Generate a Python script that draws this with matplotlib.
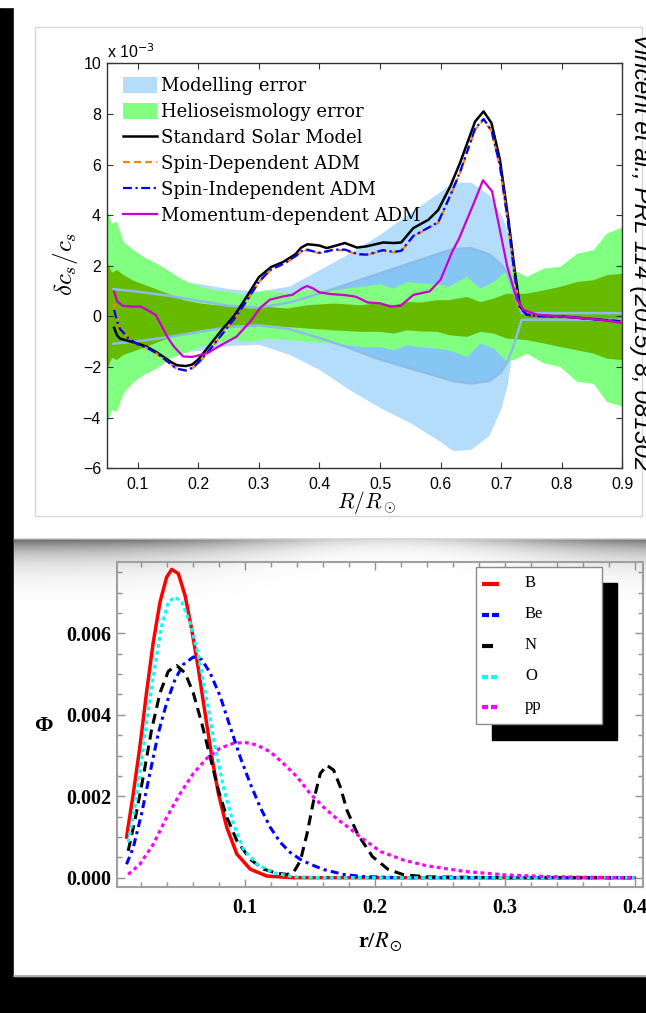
import numpy as np
import matplotlib
matplotlib.use('Agg')
import matplotlib.pyplot as plt
from matplotlib.patches import Rectangle
from matplotlib.lines import Line2D
from matplotlib.font_manager import FontProperties

# ---------------- top panel data (units of 1e-3) ----------------
x_model = [0.06, 0.10, 0.15, 0.20, 0.25, 0.30, 0.35, 0.40, 0.45, 0.50, 0.55, 0.60, 0.62,
           0.65, 0.68, 0.70, 0.71, 0.72, 0.734, 0.74, 0.80, 0.90]
model_outer_hi = [1.7, 1.6, 1.45, 1.3, 1.1, 1.0, 1.2, 1.85, 2.5, 3.25, 4.1, 4.95, 5.3,
                  5.3, 4.8, 4.0, 3.4, 2.2, 0.3, 0.15, 0.15, 0.15]
model_outer_lo = [-1.7, -1.6, -1.45, -1.35, -1.15, -1.1, -1.5, -2.1, -2.9, -3.6, -4.2, -4.95, -5.3,
                  -5.25, -4.7, -3.6, -2.7, -1.1, -0.25, -0.15, -0.15, -0.15]
model_inner_hi = [1.08, 0.98, 0.82, 0.62, 0.42, 0.35, 0.55, 0.9, 1.3, 1.7, 2.1, 2.5, 2.65,
                  2.7, 2.45, 2.05, 1.7, 1.0, 0.13, 0.13, 0.13, 0.13]
model_inner_lo = [-1.08, -0.98, -0.82, -0.62, -0.42, -0.35, -0.5, -0.85, -1.25, -1.7, -2.05, -2.4, -2.55,
                  -2.65, -2.55, -2.2, -1.8, -1.2, -0.13, -0.13, -0.13, -0.13]

x_helio = [0.05, 0.057, 0.065, 0.076, 0.093, 0.109, 0.131, 0.153, 0.175, 0.203, 0.225, 0.252,
           0.274, 0.285, 0.313, 0.346, 0.379, 0.423, 0.467, 0.50, 0.522, 0.544, 0.566, 0.594,
           0.613, 0.643, 0.665, 0.687, 0.709, 0.726, 0.742, 0.77, 0.797, 0.825, 0.852, 0.874, 0.902]
helio_outer_hi = [4.15, 3.69, 3.75, 2.96, 2.63, 2.37, 2.10, 1.78, 1.45, 1.19, 1.05, 0.99,
                  0.86, 0.92, 1.05, 0.92, 1.05, 1.05, 1.19, 1.29, 1.12, 1.38, 1.32, 1.30,
                  1.19, 1.58, 1.12, 1.38, 1.84, 1.78, 1.58, 1.91, 1.98, 2.50, 2.64, 3.29, 3.56]
helio_outer_lo = [-4.15, -3.69, -3.75, -3.03, -2.57, -2.30, -2.04, -1.65, -1.45, -1.19, -0.99, -0.92,
                  -0.95, -0.99, -0.86, -0.92, -0.99, -1.05, -1.19, -1.19, -1.32, -1.12, -1.19, -1.25,
                  -1.32, -1.58, -1.05, -1.25, -1.78, -1.65, -1.45, -1.84, -1.98, -2.57, -2.64, -3.36, -3.56]
helio_inner_hi = [2.10, 1.75, 1.85, 1.65, 1.42, 1.28, 1.08, 0.88, 0.66, 0.53, 0.47, 0.41,
                  0.36, 0.33, 0.40, 0.33, 0.46, 0.53, 0.46, 0.55, 0.46, 0.59, 0.57, 0.66,
                  0.66, 0.79, 0.59, 0.72, 0.92, 0.90, 0.92, 1.05, 1.19, 1.38, 1.45, 1.65, 1.71]
helio_inner_lo = [-2.00, -1.62, -1.70, -1.50, -1.36, -1.22, -1.02, -0.82, -0.66, -0.53, -0.47, -0.41,
                  -0.40, -0.40, -0.33, -0.40, -0.46, -0.53, -0.59, -0.59, -0.66, -0.53, -0.57, -0.59,
                  -0.72, -0.79, -0.59, -0.66, -0.86, -0.88, -0.92, -1.05, -1.19, -1.32, -1.45, -1.65, -1.71]

x_curve = [0.061, 0.066, 0.071, 0.085, 0.10, 0.115, 0.13, 0.142, 0.155, 0.165,
           0.18, 0.19, 0.20, 0.22, 0.24, 0.26, 0.28, 0.30, 0.32, 0.34,
           0.36, 0.37, 0.38, 0.39, 0.40, 0.412, 0.423, 0.442, 0.462, 0.478,
           0.505, 0.522, 0.535, 0.555, 0.58, 0.596, 0.616, 0.632, 0.657, 0.671,
           0.684, 0.698, 0.712, 0.723, 0.731, 0.742, 0.76, 0.80, 0.85, 0.90]
ssm = [-0.45, -0.75, -0.88, -0.97, -1.07, -1.2, -1.4, -1.59, -1.8, -1.93,
       -1.96, -1.9, -1.7, -1.1, -0.5, 0.05, 0.78, 1.55, 1.95, 2.15,
       2.45, 2.72, 2.85, 2.83, 2.8, 2.7, 2.77, 2.9, 2.72, 2.77,
       2.92, 2.9, 2.92, 3.49, 3.82, 4.2, 5.14, 6.06, 7.7, 8.1,
       7.64, 6.19, 3.82, 1.71, 0.4, 0.07, 0.02, 0.0, -0.1, -0.2]
spin_dep = [0.52, -0.1, -0.45, -0.85, -1.1, -1.25, -1.45, -1.65, -1.9, -2.08,
            -2.15, -2.05, -1.85, -1.3, -0.7, -0.1, 0.6, 1.35, 1.85, 2.05,
            2.35, 2.55, 2.62, 2.55, 2.5, 2.55, 2.62, 2.62, 2.45, 2.42,
            2.6, 2.53, 2.57, 3.16, 3.49, 3.69, 4.74, 5.67, 7.38, 7.77,
            7.31, 5.93, 3.56, 1.45, 0.33, 0.07, 0.02, 0.0, -0.1, -0.2]
spin_indep = [0.26, -0.2, -0.5, -0.87, -1.1, -1.24, -1.44, -1.64, -1.9, -2.07,
              -2.13, -2.03, -1.83, -1.28, -0.68, -0.08, 0.62, 1.37, 1.86, 2.07,
              2.37, 2.57, 2.64, 2.57, 2.52, 2.57, 2.64, 2.64, 2.47, 2.44,
              2.62, 2.55, 2.59, 3.18, 3.51, 3.72, 4.78, 5.7, 7.42, 7.8,
              7.35, 5.96, 3.6, 1.48, 0.34, 0.07, 0.02, 0.0, -0.1, -0.2]
x_mom = [0.061, 0.066, 0.075, 0.09, 0.105, 0.12, 0.13, 0.14, 0.15, 0.16,
         0.175, 0.19, 0.215, 0.24, 0.263, 0.286, 0.302, 0.318, 0.34, 0.355,
         0.372, 0.38, 0.39, 0.40, 0.42, 0.44, 0.46, 0.48, 0.50, 0.517,
         0.534, 0.555, 0.582, 0.60, 0.62, 0.63, 0.655, 0.67, 0.685, 0.71,
         0.726, 0.737, 0.759, 0.797, 0.852, 0.902]
mom = [0.98, 0.6, 0.42, 0.39, 0.39, 0.2, 0.05, -0.4, -0.85, -1.2,
       -1.58, -1.6, -1.45, -1.1, -0.8, -0.2, 0.33, 0.66, 0.79, 0.85,
       1.12, 1.2, 1.1, 0.95, 0.88, 0.85, 0.78, 0.55, 0.52, 0.39,
       0.42, 0.85, 0.99, 1.45, 2.6, 3.05, 4.48, 5.38, 4.94, 1.98,
       0.66, 0.26, 0.07, 0.0, -0.1, -0.26]
top_labels = ['Modelling error', 'Helioseismology error', 'Standard Solar Model',
              'Spin-Dependent ADM', 'Spin-Independent ADM', 'Momentum-dependent ADM']
top_xticks = [0.1, 0.2, 0.3, 0.4, 0.5, 0.6, 0.7, 0.8, 0.9]
top_yticks = [-6, -4, -2, 0, 2, 4, 6, 8, 10]

# ---------------- bottom panel data ----------------
x_B = [0.0086, 0.0138, 0.0189, 0.024, 0.0292, 0.0344, 0.0395, 0.0434, 0.0485, 0.0537,
       0.0588, 0.064, 0.0691, 0.0743, 0.0794, 0.0858, 0.0936, 0.1039, 0.1167, 0.137,
       0.2, 0.3, 0.4]
phi_B = [0.00099, 0.00206, 0.00322, 0.00454, 0.00578, 0.00677, 0.00738, 0.00757, 0.00747, 0.00693,
         0.0061, 0.00512, 0.00404, 0.00297, 0.00206, 0.00124, 0.00058, 0.00021, 0.00004, 0.0,
         0.0, 0.0, 0.0]
x_Be = [0.0086, 0.0138, 0.0202, 0.0266, 0.0331, 0.0395, 0.046, 0.0524, 0.0601, 0.0665,
        0.073, 0.0807, 0.0884, 0.0961, 0.1039, 0.1116, 0.1193, 0.127, 0.1347, 0.1425,
        0.1502, 0.1605, 0.1758, 0.19, 0.22, 0.3, 0.4]
phi_Be = [0.00033, 0.00074, 0.00157, 0.00256, 0.00355, 0.00429, 0.00487, 0.00524, 0.00542, 0.00536,
          0.00503, 0.00446, 0.00371, 0.00297, 0.00231, 0.00173, 0.00124, 0.00087, 0.00062, 0.00045,
          0.00033, 0.0002, 0.00008, 0.00003, 0.0, 0.0, 0.0]
x_N = [0.0099, 0.015, 0.0215, 0.0279, 0.0344, 0.0408, 0.0472, 0.0537, 0.06, 0.0665,
       0.073, 0.0794, 0.0858, 0.0936, 0.1039, 0.1142, 0.1244, 0.1322, 0.137, 0.1425,
       0.1476, 0.1528, 0.1579, 0.163, 0.1682, 0.1733, 0.1785, 0.1865, 0.198, 0.2103,
       0.2223, 0.241, 0.3, 0.4]
phi_N = [0.00066, 0.0014, 0.00248, 0.00363, 0.00454, 0.00507, 0.00521, 0.00503, 0.00454, 0.0038,
         0.00297, 0.00215, 0.00149, 0.00091, 0.00045, 0.00021, 0.00011, 0.00008, 0.00012, 0.00041,
         0.00107, 0.0019, 0.00256, 0.00276, 0.00264, 0.00223, 0.00165, 0.00108, 0.00052, 0.0002,
         0.00007, 0.00002, 0.0, 0.0]
x_O = [0.0099, 0.015, 0.0202, 0.0254, 0.0305, 0.0357, 0.0408, 0.046, 0.0511, 0.0575,
       0.064, 0.0704, 0.0768, 0.0832, 0.091, 0.0987, 0.109, 0.122, 0.137, 0.16,
       0.2, 0.3, 0.4]
phi_O = [0.00087, 0.00173, 0.00289, 0.00413, 0.0052, 0.00619, 0.00677, 0.00689, 0.00677, 0.00627,
         0.00545, 0.00437, 0.00322, 0.00223, 0.00132, 0.0007, 0.00033, 0.00012, 0.00002, 0.0,
         0.0, 0.0, 0.0]
x_pp = [0.0099, 0.0189, 0.0292, 0.0395, 0.0498, 0.0601, 0.0704, 0.0807, 0.091, 0.1,
        0.109, 0.1193, 0.1296, 0.1399, 0.1502, 0.1605, 0.1708, 0.181, 0.1875, 0.2044,
        0.2223, 0.2402, 0.27, 0.3, 0.33, 0.36, 0.4]
phi_pp = [0.00008, 0.00033, 0.00082, 0.00148, 0.00206, 0.00256, 0.00293, 0.00318, 0.0033, 0.00332,
          0.00326, 0.00309, 0.0028, 0.00248, 0.00206, 0.00173, 0.00144, 0.0012, 0.00103, 0.00064,
          0.00043, 0.00029, 0.00015, 0.00007, 0.00003, 0.00001, 0.0]
bot_labels = ['B', 'Be', 'N', 'O', 'pp']
bot_xticks = [0.1, 0.2, 0.3, 0.4]
bot_yticks = [0.0, 0.002, 0.004, 0.006]
bot_yticklabels = ['0.000', '0.002', '0.004', '0.006']

# ---------------- figure ----------------
W, H = 646, 1013
fig = plt.figure(figsize=(W / 100, H / 100), dpi=100, facecolor='black')


def fx(px):
    return px / W


def fy(py):
    return 1 - py / H


bg = fig.add_axes([0, 0, 1, 1], zorder=0)
bg.axis('off')
bg.add_patch(Rectangle((0, 0), W, 7, color='white', zorder=1))
bg.add_patch(Rectangle((13.6, 8), W, 531, color='white', zorder=1))
bg.add_patch(Rectangle((13.6, 538), W, 437.5, color='white', zorder=1))
bg.add_patch(Rectangle((34.6, 27), 607, 489, fill=False, ec='#d6d6d6', lw=1, zorder=2))
gx = np.linspace(13.6, W, 400)
gy = np.linspace(536, 600, 90)
GX, GY = np.meshgrid(gx, gy)
bump = np.exp(-((GX - 390) / 170) ** 2)
depth = 0.6 * (1 - 0.75 * bump)
tau = 16 - 8 * bump
G = 1 - depth * np.exp(-np.clip(GY - 539, 0, None) / tau)
G[GY < 538] = 1.0
G[(GY >= 538) & (GY < 539.5)] = 0.82
bg.imshow(G, cmap='gray', vmin=0, vmax=1, extent=(13.6, W, 600, 536), aspect='auto',
          interpolation='bilinear', origin='upper', zorder=3)
bg.plot([13.6, W], [975.5, 975.5], color='#a0a0a0', lw=1.2, zorder=4)
bg.set_xlim(0, W)
bg.set_ylim(H, 0)

# ---------------- top axes ----------------
ax1 = fig.add_axes([fx(107.3), fy(468.3), (622.3 - 107.3) / W, (468.3 - 63.3) / H], zorder=2)
c_out = '#b3ddfa'
c_in = '#86c6f5'
c_line = '#8cbde6'
c_lg = '#80ff80'
c_dg = '#66bb00'
h_model = ax1.fill_between(x_model, model_outer_lo, model_outer_hi, color=c_out, lw=0, zorder=1)
ax1.fill_between(x_model, model_inner_lo, model_inner_hi, color=c_in, lw=0, zorder=1.1)
h_helio = ax1.fill_between(x_helio, helio_outer_lo, helio_outer_hi, color=c_lg, lw=0, zorder=1.2)
ax1.fill_between(x_helio, helio_inner_lo, helio_inner_hi, color=c_dg, lw=0, zorder=1.3)
ax1.plot(x_model, model_inner_hi, color=c_line, lw=1.8, zorder=2)
ax1.plot(x_model, model_inner_lo, color=c_line, lw=1.8, zorder=2)
h1, = ax1.plot(x_curve, ssm, color='black', lw=1.8, zorder=3)
h2, = ax1.plot(x_curve, spin_dep, color='#ff7f00', lw=1.6, dashes=(3, 2), zorder=3.1)
h3, = ax1.plot(x_curve, spin_indep, color='#0000ff', lw=1.6, dashes=(4, 1.6, 1, 1.6), zorder=3.2)
h4, = ax1.plot(x_mom, mom, color='#cc00cc', lw=1.6, zorder=3.3)
ax1.set_xlim(0.0498, 0.9)
ax1.set_ylim(-6, 10)
ax1.set_xticks(top_xticks)
ax1.set_yticks(top_yticks)
ax1.set_xticklabels([f'{v:.1f}' for v in top_xticks])
ax1.set_yticklabels([str(v).replace('-', '\u2212') for v in top_yticks])
ax1.tick_params(direction='in', length=4.5, width=0.8, top=True, right=True, color='#333333',
                labelsize=11.5)
ax1.tick_params(axis='x', pad=6)
ax1.tick_params(axis='y', pad=4.5)
for lab in ax1.get_xticklabels() + ax1.get_yticklabels():
    lab.set_fontfamily('Liberation Sans')
for s in ax1.spines.values():
    s.set_color('#333333')
    s.set_linewidth(1.0)
leg = ax1.legend([h_model, h_helio, h1, h2, h3, h4], top_labels, loc='upper left',
                 bbox_to_anchor=(0.031, 0.966), frameon=False,
                 prop=FontProperties(family='DejaVu Serif', size=13),
                 handlelength=1.85, handleheight=1.0, handletextpad=0.25,
                 labelspacing=0.43, borderpad=0.0, borderaxespad=0.0)
leg.set_zorder(5)
fig.text(fx(107), fy(57.5), r'x 10$^{-3}$', fontsize=11.5, family='Liberation Sans',
         math_fontfamily='dejavusans', va='baseline', ha='left')
fig.text(fx(66), fy(264), r'$\delta c_s/c_s$', fontsize=18, rotation=90, ha='center', va='center',
         math_fontfamily='cm')
fig.text(fx(366), fy(503), r'$R/R_\odot$', fontsize=15.5, ha='center', va='center',
         math_fontfamily='cm')
fig.text(fx(634), fy(33), 'Vincent et al., PRL 114 (2015) 8, 081302', rotation=-90,
         rotation_mode='anchor', ha='left', va='baseline', fontsize=17.5,
         family='Liberation Sans', style='italic', color='black', zorder=6)

# ---------------- bottom axes ----------------
ax2 = fig.add_axes([fx(117.3), fy(887.3), (643 - 117.3) / W, (887.3 - 561.7) / H], zorder=2)
ax2.set_facecolor('none')
ax2.plot(x_B, phi_B, color='#ff0000', lw=2.5, solid_capstyle='round')
ax2.plot(x_Be, phi_Be, color='#0000ff', lw=2.2, dashes=(2.6, 1.4, 1.0, 1.4))
ax2.plot(x_N, phi_N, color='black', lw=2.2, dashes=(3.3, 2.0))
ax2.plot(x_O, phi_O, color='#00ffff', lw=2.3, dashes=(1.2, 1.0))
ax2.plot(x_pp, phi_pp, color='#ff00ff', lw=2.3, dashes=(1.2, 1.1))
ax2.set_xlim(0.0015, 0.4065)
ax2.set_ylim(-0.000236, 0.00776)
ax2.set_xticks(bot_xticks)
ax2.set_xticks(np.arange(0.02, 0.41, 0.02), minor=True)
ax2.set_yticks(bot_yticks)
ax2.set_yticks(np.arange(0.0, 0.0076, 0.0005), minor=True)
ax2.set_xticklabels([f'{v:.1f}' for v in bot_xticks])
ax2.set_yticklabels(bot_yticklabels)
ax2.tick_params(which='both', direction='in', top=True, right=True, color='#909090', width=1.0)
ax2.tick_params(which='major', length=6)
ax2.tick_params(which='minor', length=3.5)
ax2.tick_params(axis='x', pad=8, labelsize=14.5)
ax2.tick_params(axis='y', pad=4, labelsize=14.5)
for lab in ax2.get_xticklabels() + ax2.get_yticklabels():
    lab.set_fontfamily('Liberation Serif')
    lab.set_fontweight('bold')
for s in ax2.spines.values():
    s.set_color('#a0a0a0')
    s.set_linewidth(1.5)
fig.text(fx(43), fy(726), '\u03a6', fontsize=16, fontweight='bold', family='Liberation Serif',
         ha='center', va='center')
fig.text(fx(380), fy(942), r'r/$R_\odot$', fontsize=16, fontweight='bold', family='Liberation Serif',
         math_fontfamily='stix', ha='center', va='center')

# bottom legend with shadow
lg = fig.add_axes([0, 0, 1, 1], zorder=4)
lg.axis('off')
lg.set_facecolor('none')
lg.add_patch(Rectangle((491.7, 582.7), 125.6, 157.3, color='black'))
lg.add_patch(Rectangle((475.7, 566.7), 126, 157.6, fc='white', ec='#8a8a8a', lw=1))
rows = [583.3, 613.7, 645, 676, 706]
styles = [dict(color='#ff0000', lw=3, segs=[(481.7, 499)]),
          dict(color='#0000ff', lw=3, segs=[(481.7, 488.5), (491.5, 499)]),
          dict(color='black', lw=3, segs=[(481.7, 493)]),
          dict(color='#00ffff', lw=3, segs=[(481.7, 487.5), (490.5, 496.5)]),
          dict(color='#ff00ff', lw=3, segs=[(481.7, 487.5), (490.5, 496.5)])]
for yrow, st, lab in zip(rows, styles, bot_labels):
    for a, b in st['segs']:
        lg.add_line(Line2D([a, b], [yrow + 1, yrow + 1], color=st['color'], lw=st['lw'],
                           solid_capstyle='butt'))
    lg.text(525, yrow, lab, fontsize=12, family='Liberation Serif', ha='left', va='center')
lg.set_xlim(0, W)
lg.set_ylim(H, 0)

fig.savefig('out.png', dpi=100, facecolor='black')
